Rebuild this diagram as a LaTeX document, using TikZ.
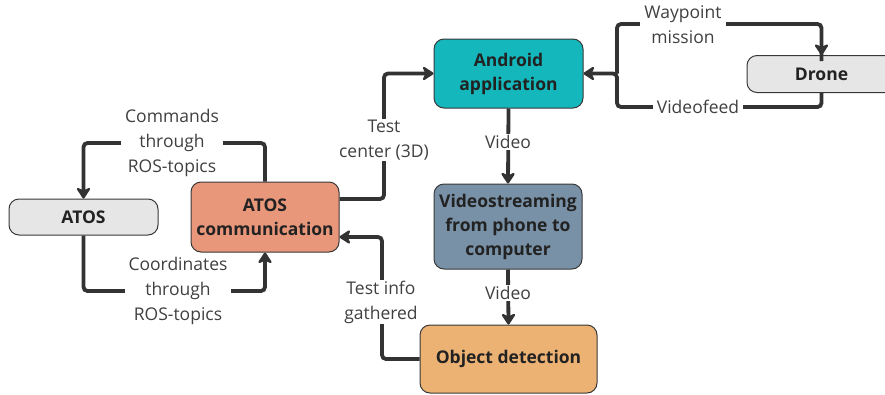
\documentclass[tikz,border=0pt]{standalone}
\usepackage{fontspec}
\setmainfont{Open Sans}
\usetikzlibrary{arrows.meta,calc}

\definecolor{boxgray}{HTML}{E6E6E6}
\definecolor{boxsalmon}{HTML}{E8977A}
\definecolor{boxteal}{HTML}{13B7BC}
\definecolor{boxslate}{HTML}{7891A6}
\definecolor{boxorange}{HTML}{ECB274}
\definecolor{edgeline}{HTML}{383838}
\definecolor{linkline}{HTML}{333333}
\definecolor{labeltext}{HTML}{404040}
\definecolor{boxtext}{HTML}{222222}

\tikzset{
  box/.style={draw=edgeline, line width=1pt, rounded corners=10pt,
    align=center, inner sep=0pt, text=boxtext,
    font=\fontsize{17.5}{24}\selectfont\bfseries},
  conn/.style={draw=linkline, line width=3.8pt, rounded corners=4pt,
    -{Stealth[length=13pt,width=17pt,inset=4pt,round]}},
  plain/.style={draw=linkline, line width=3.8pt, rounded corners=4pt},
  lbl/.style={fill=white, align=center, inner xsep=4pt, inner ysep=1pt,
    text=labeltext, font=\fontsize{17.5}{25}\selectfont},
}

\begin{document}
\begin{tikzpicture}[x=1pt, y=-1pt]
  \useasboundingbox (0,0) rectangle (885,394);
  \clip (0,0) rectangle (885,394);

  % blocks
  \node[box, fill=boxgray, minimum width=149pt, minimum height=36pt] (atos) at (83.5,217) {ATOS};
  \node[box, fill=boxsalmon, minimum width=148pt, minimum height=70pt] (comm) at (265,217) {ATOS\\communication};
  \node[box, fill=boxteal, minimum width=149pt, minimum height=69pt] (android) at (508.5,73.5) {Android\\application};
  \node[box, fill=boxgray, minimum width=149pt, minimum height=37pt] (drone) at (821.5,74) {Drone};
  \node[box, fill=boxslate, minimum width=148pt, minimum height=85pt] (stream) at (508,226.5) {Videostreaming\\from phone to\\computer};
  \node[box, fill=boxorange, minimum width=177pt, minimum height=68pt] (detect) at (508.5,359) {Object detection};

  % bend points of the connectors
  \coordinate (cmdbend) at (172,143);
  \coordinate (crdbend) at (178,291);
  \coordinate (tcbend) at (384,199);
  \coordinate (tibend) at (382,237);
  \coordinate (junction) at (617,73.5);
  \coordinate (wptop) at (617,24);
  \coordinate (vfbottom) at (617,107);

  % connectors
  \draw[conn] (comm.north) |- (cmdbend) -| (atos.north);
  \draw[conn] (atos.south) |- (crdbend) -| (comm.south);
  \draw[conn] ([yshift=18pt]comm.east) -| (tcbend |- android.west) -- (android.west);
  \draw[conn] (detect.west) -| (tibend) -- ([yshift=-20pt]comm.east);
  \draw[conn] (android.south) -- (stream.north);
  \draw[conn] (stream.south) -- (detect.north);
  \draw[plain] (junction) -- (wptop) -| ([yshift=-6pt]drone.north);
  \draw[conn] ([yshift=-4pt]drone.north |- wptop) -- (drone.north);
  \draw[conn] (drone.south) |- (vfbottom) |- (android.east);

  % labels on the connectors
  \node[lbl] (cmdlbl) at (172,143) {Commands\\through\\ROS-topics};
  \node[lbl] (crdlbl) at (178,291) {Coordinates\\through\\ROS-topics};
  \node[lbl] (tclbl) at (384,140) {Test\\center (3D)};
  \node[lbl] (tilbl) at (381,302) {Test info\\gathered};
  \node[lbl] (vid1) at (508,142) {Video};
  \node[lbl] (vid2) at (508,293) {Video};
  \node[lbl] (wplbl) at (683,24.5) {Waypoint\\mission};
  \node[lbl] (vflbl) at (698,107) {Videofeed};
\end{tikzpicture}
\end{document}
